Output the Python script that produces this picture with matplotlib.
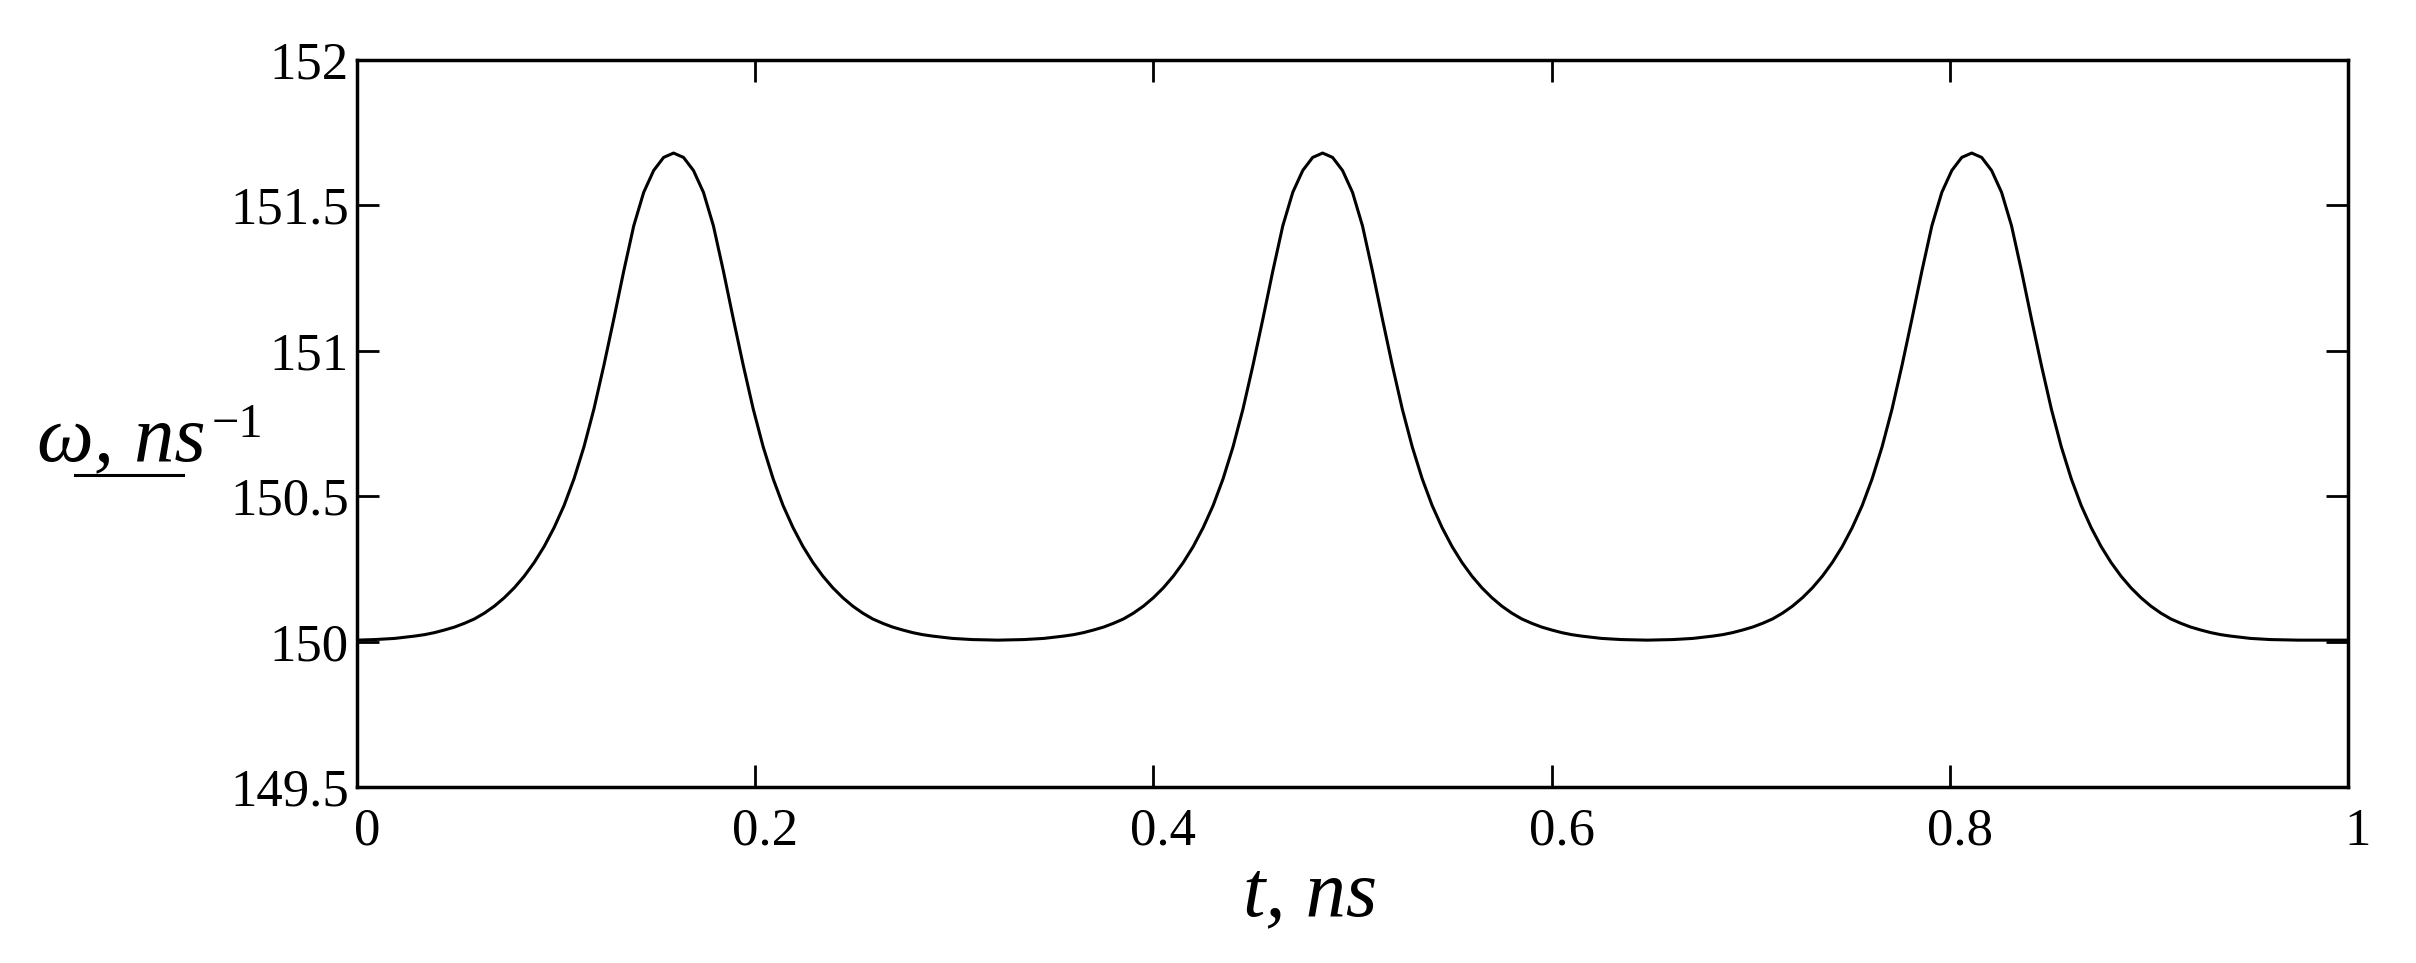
# Import packages.
import numpy as np
import matplotlib
matplotlib.use("Agg")
import matplotlib.pyplot as plt
import matplotlib.transforms as mtransforms
from matplotlib.lines import Line2D

# Values, one list per pulse: time (ns), omega (1/ns).
t_pulse1 = [
    0.000, 0.009, 0.019, 0.029, 0.034, 0.039, 0.044, 0.049, 0.054, 0.059,
    0.064, 0.069, 0.074, 0.079, 0.084, 0.089, 0.094, 0.099, 0.104, 0.109,
    0.114, 0.119, 0.124, 0.129, 0.134, 0.139, 0.144, 0.149, 0.154, 0.159,
    0.164, 0.169, 0.174, 0.179, 0.184, 0.189, 0.194, 0.199, 0.204, 0.209,
    0.214, 0.219, 0.224, 0.229, 0.234, 0.239, 0.244, 0.249, 0.254, 0.259,
    0.264, 0.269, 0.274, 0.279, 0.284, 0.289, 0.299, 0.309, 0.322,
]
w_pulse1 = [
    150.005, 150.007, 150.011, 150.019, 150.024, 150.031, 150.040, 150.050, 150.063, 150.078,
    150.098, 150.122, 150.151, 150.185, 150.225, 150.272, 150.327, 150.392, 150.468, 150.560,
    150.670, 150.800, 150.950, 151.110, 151.275, 151.430, 151.545, 151.620, 151.665, 151.680,
    151.665, 151.620, 151.545, 151.430, 151.275, 151.110, 150.950, 150.800, 150.670, 150.560,
    150.468, 150.392, 150.327, 150.272, 150.225, 150.185, 150.151, 150.122, 150.098, 150.078,
    150.063, 150.050, 150.040, 150.031, 150.024, 150.019, 150.011, 150.007, 150.005,
]
t_pulse2 = [
    0.335, 0.345, 0.355, 0.360, 0.365, 0.370, 0.375, 0.380, 0.385,
    0.390, 0.395, 0.400, 0.405, 0.410, 0.415, 0.420, 0.425, 0.430, 0.435,
    0.440, 0.445, 0.450, 0.455, 0.460, 0.465, 0.470, 0.475, 0.480, 0.485,
    0.490, 0.495, 0.500, 0.505, 0.510, 0.515, 0.520, 0.525, 0.530, 0.535,
    0.540, 0.545, 0.550, 0.555, 0.560, 0.565, 0.570, 0.575, 0.580, 0.585,
    0.590, 0.595, 0.600, 0.605, 0.610, 0.615, 0.625, 0.635, 0.648,
]
w_pulse2 = [
    150.007, 150.011, 150.019, 150.024, 150.031, 150.040, 150.050, 150.063, 150.078,
    150.098, 150.122, 150.151, 150.185, 150.225, 150.272, 150.327, 150.392, 150.468, 150.560,
    150.670, 150.800, 150.950, 151.110, 151.275, 151.430, 151.545, 151.620, 151.665, 151.680,
    151.665, 151.620, 151.545, 151.430, 151.275, 151.110, 150.950, 150.800, 150.670, 150.560,
    150.468, 150.392, 150.327, 150.272, 150.225, 150.185, 150.151, 150.122, 150.098, 150.078,
    150.063, 150.050, 150.040, 150.031, 150.024, 150.019, 150.011, 150.007, 150.005,
]
t_pulse3 = [
    0.661, 0.671, 0.681, 0.686, 0.691, 0.696, 0.701, 0.706, 0.711,
    0.716, 0.721, 0.726, 0.731, 0.736, 0.741, 0.746, 0.751, 0.756, 0.761,
    0.766, 0.771, 0.776, 0.781, 0.786, 0.791, 0.796, 0.801, 0.806, 0.811,
    0.816, 0.821, 0.826, 0.831, 0.836, 0.841, 0.846, 0.851, 0.856, 0.861,
    0.866, 0.871, 0.876, 0.881, 0.886, 0.891, 0.896, 0.901, 0.906, 0.911,
    0.916, 0.921, 0.926, 0.931, 0.936, 0.941, 0.951, 0.961, 0.975, 1.000,
]
w_pulse3 = [
    150.007, 150.011, 150.019, 150.024, 150.031, 150.040, 150.050, 150.063, 150.078,
    150.098, 150.122, 150.151, 150.185, 150.225, 150.272, 150.327, 150.392, 150.468, 150.560,
    150.670, 150.800, 150.950, 151.110, 151.275, 151.430, 151.545, 151.620, 151.665, 151.680,
    151.665, 151.620, 151.545, 151.430, 151.275, 151.110, 150.950, 150.800, 150.670, 150.560,
    150.468, 150.392, 150.327, 150.272, 150.225, 150.185, 150.151, 150.122, 150.098, 150.078,
    150.063, 150.050, 150.040, 150.031, 150.024, 150.019, 150.011, 150.007, 150.005, 150.005,
]

# Tick labels.
x_ticks = [0, 0.2, 0.4, 0.6, 0.8, 1]
x_labels = ["0", "0.2", "0.4", "0.6", "0.8", "1"]
y_ticks = [149.5, 150, 150.5, 151, 151.5, 152]
y_labels = ["149.5", "150", "150.5", "151", "151.5", "152"]

t_ns = t_pulse1 + t_pulse2 + t_pulse3
omega = w_pulse1 + w_pulse2 + w_pulse3

W, H, DPI = 2416, 963, 100
serif = "Liberation Serif"

fig = plt.figure(figsize=(W / DPI, H / DPI), dpi=DPI)
fig.patch.set_facecolor("white")

# Axes box in pixels: left 357, right 2348, top 60, bottom 787.
ax = fig.add_axes([357 / W, 1 - 787 / H, (2348 - 357) / W, (787 - 60) / H])
ax.plot(t_ns, omega, color="black", lw=2.2, solid_joinstyle="round")

ax.set_xlim(0, 1)
ax.set_ylim(149.5, 152)
ax.set_xticks(x_ticks)
ax.set_xticklabels(x_labels)
ax.set_yticks(y_ticks)
ax.set_yticklabels(y_labels)

for side in ax.spines.values():
    side.set_linewidth(2.5)
    side.set_color("black")

ax.tick_params(axis="both", direction="in", length=16, width=2, color="black",
               top=True, right=True, labelsize=38)
ax.tick_params(axis="x", pad=15)
ax.tick_params(axis="y", pad=6)
for lbl in ax.get_xticklabels() + ax.get_yticklabels():
    lbl.set_fontfamily(serif)

# The x tick labels sit a little to the right of their ticks.
shift = mtransforms.ScaledTranslation(10 / DPI, 0, fig.dpi_scale_trans)
for lbl in ax.get_xticklabels():
    lbl.set_transform(lbl.get_transform() + shift)

# Axis labels, placed like the original.
fig.text(37 / W, 1 - 460 / H, "ω, ns", family=serif, style="italic",
         fontsize=58, ha="left", va="baseline")
fig.text(212 / W, 1 - 437 / H, "\u22121", family=serif,
         fontsize=35, ha="left", va="baseline")
fig.add_artist(Line2D([75 / W, 183 / W], [1 - 475 / H, 1 - 475 / H],
                      transform=fig.transFigure, color="black", lw=2.2))
fig.text(1243 / W, 1 - 915 / H, "t, ns", family=serif, style="italic",
         fontsize=58, ha="left", va="baseline")

fig.savefig("out.png", dpi=DPI, facecolor="white")
